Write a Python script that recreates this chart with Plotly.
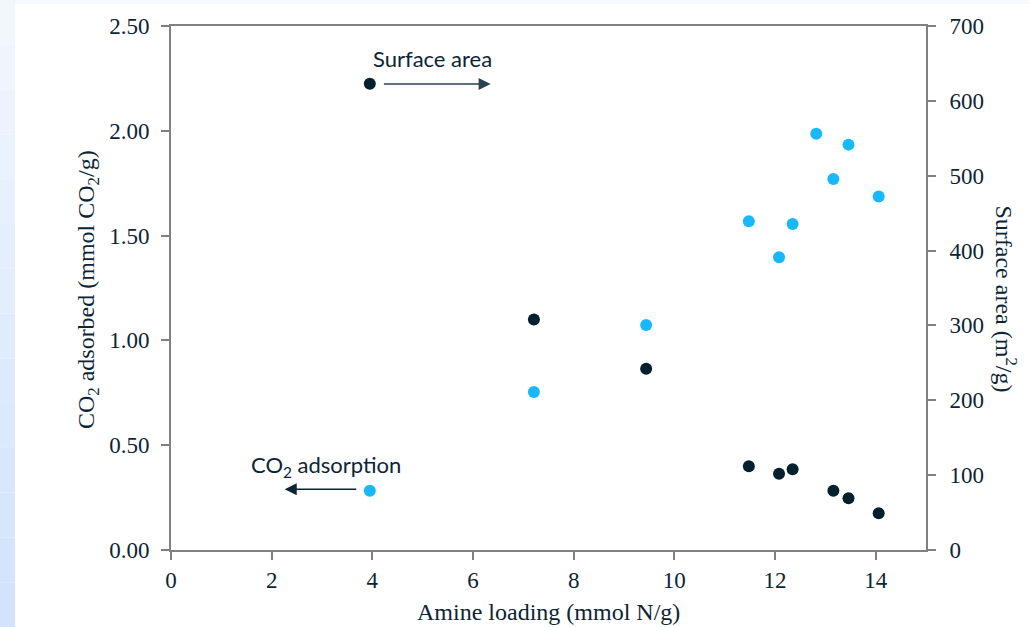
import plotly.graph_objects as go

# Data
amine_loading = [3.95, 7.21, 9.44, 11.48, 12.08, 12.35, 12.82, 13.16, 13.46, 14.06]
co2_adsorbed = [0.283, 0.754, 1.073, 1.568, 1.397, 1.555, 1.986, 1.770, 1.934, 1.687]

sa_loading = [3.95, 7.21, 9.44, 11.48, 12.08, 12.35, 13.16, 13.46, 14.06]
surface_area = [623, 308, 242, 112, 102, 108, 79, 69, 49]

x_ticks = [0, 2, 4, 6, 8, 10, 12, 14]
y_ticks = [0, 0.5, 1.0, 1.5, 2.0, 2.5]
y2_ticks = [0, 100, 200, 300, 400, 500, 600, 700]

TXT = "#0b2535"
AX = "#808080"
serif = "Liberation Serif, Times New Roman, serif"
sans = "Lato, Open Sans, sans-serif"

fig = go.Figure()
fig.add_trace(go.Scatter(x=amine_loading, y=co2_adsorbed, mode="markers",
                         marker=dict(color="#17b9fa", size=12), yaxis="y",
                         showlegend=False))
fig.add_trace(go.Scatter(x=sa_loading, y=surface_area, mode="markers",
                         marker=dict(color="#03202f", size=12), yaxis="y2",
                         showlegend=False))

axis_common = dict(showgrid=False, zeroline=False, showline=True, linecolor=AX,
                   linewidth=2, ticks="outside", tickcolor=AX, tickwidth=2,
                   ticklen=8, tickfont=dict(family=serif, size=23, color=TXT))

fig.update_layout(
    width=1029, height=627,
    margin=dict(l=171, r=103, t=26, b=77),
    paper_bgcolor="white", plot_bgcolor="white",
    xaxis=dict(range=[0, 15], tickvals=x_ticks, mirror=True, **axis_common),
    yaxis=dict(range=[0, 2.5], tickvals=y_ticks, tickformat=".2f",
               ticklabelstandoff=7, **axis_common),
    yaxis2=dict(range=[0, 700], tickvals=y2_ticks, overlaying="y", side="right",
                ticklabelstandoff=9, **axis_common),
)

# left light-blue strip (slide background), stepped gradient
n = 14
for i in range(n):
    t = i / (n - 1)
    r = int(0xf2 + (0xd2 - 0xf2) * t)
    g = int(0xf7 + (0xe3 - 0xf7) * t)
    b = int(0xfe + (0xfb - 0xfe) * t)
    c = f"rgb({r},{g},{b})"
    fig.add_shape(type="rect", xref="paper", yref="paper",
                  x0=-171/755, x1=(15-171)/755,
                  y0=1 + 26/524 - (i+1)*(627/524)/n, y1=1 + 26/524 - i*(627/524)/n,
                  fillcolor=c, line=dict(width=0), layer="below")
# faint top strip
fig.add_shape(type="rect", xref="paper", yref="paper",
              x0=(15-171)/755, x1=1 + 103/755, y0=1 + 22/524, y1=1 + 26/524,
              fillcolor="#f6f9fe", line=dict(width=0), layer="below")

ann = []
ann.append(dict(text="CO<sub>2</sub> adsorbed (mmol CO<sub>2</sub>/g)", xref="paper", yref="paper",
                x=0, y=0.496, xshift=-83, textangle=-90, showarrow=False,
                font=dict(family=serif, size=24, color=TXT), xanchor="center", yanchor="middle"))
ann.append(dict(text="Surface area (m<sup>2</sup>/g)", xref="paper", yref="paper",
                x=1, y=0.48, xshift=80, textangle=90, showarrow=False,
                font=dict(family=serif, size=24, color=TXT), xanchor="center", yanchor="middle"))
ann.append(dict(text="Amine loading (mmol N/g)", xref="paper", yref="paper",
                x=0.5, y=0, yshift=-62, showarrow=False,
                font=dict(family=serif, size=24, color=TXT), xanchor="center", yanchor="middle"))
ann.append(dict(text="Surface area", xref="x", yref="y", x=5.2, y=2.345, showarrow=False,
                font=dict(family=sans, size=22, color=TXT), xanchor="center", yanchor="middle"))
ann.append(dict(text="CO<sub>2</sub> adsorption", xref="x", yref="y", x=3.07, y=0.40, showarrow=False,
                font=dict(family=sans, size=22, color=TXT), xanchor="center", yanchor="middle"))
ann.append(dict(text="", xref="x", yref="y", x=6.35, y=2.223, ax=4.2, ay=2.223,
                axref="x", ayref="y", showarrow=True, arrowhead=2, arrowsize=1.6,
                arrowwidth=1.5, arrowcolor="#2a4250"))
ann.append(dict(text="", xref="x", yref="y", x=2.26, y=0.29, ax=3.71, ay=0.29,
                axref="x", ayref="y", showarrow=True, arrowhead=2, arrowsize=1.6,
                arrowwidth=1.5, arrowcolor="#0b2535"))
fig.update_layout(annotations=ann)

fig.write_html("out.html", config={"displayModeBar": False},
               post_script="document.body.style.margin='0';document.body.style.overflow='hidden';")
